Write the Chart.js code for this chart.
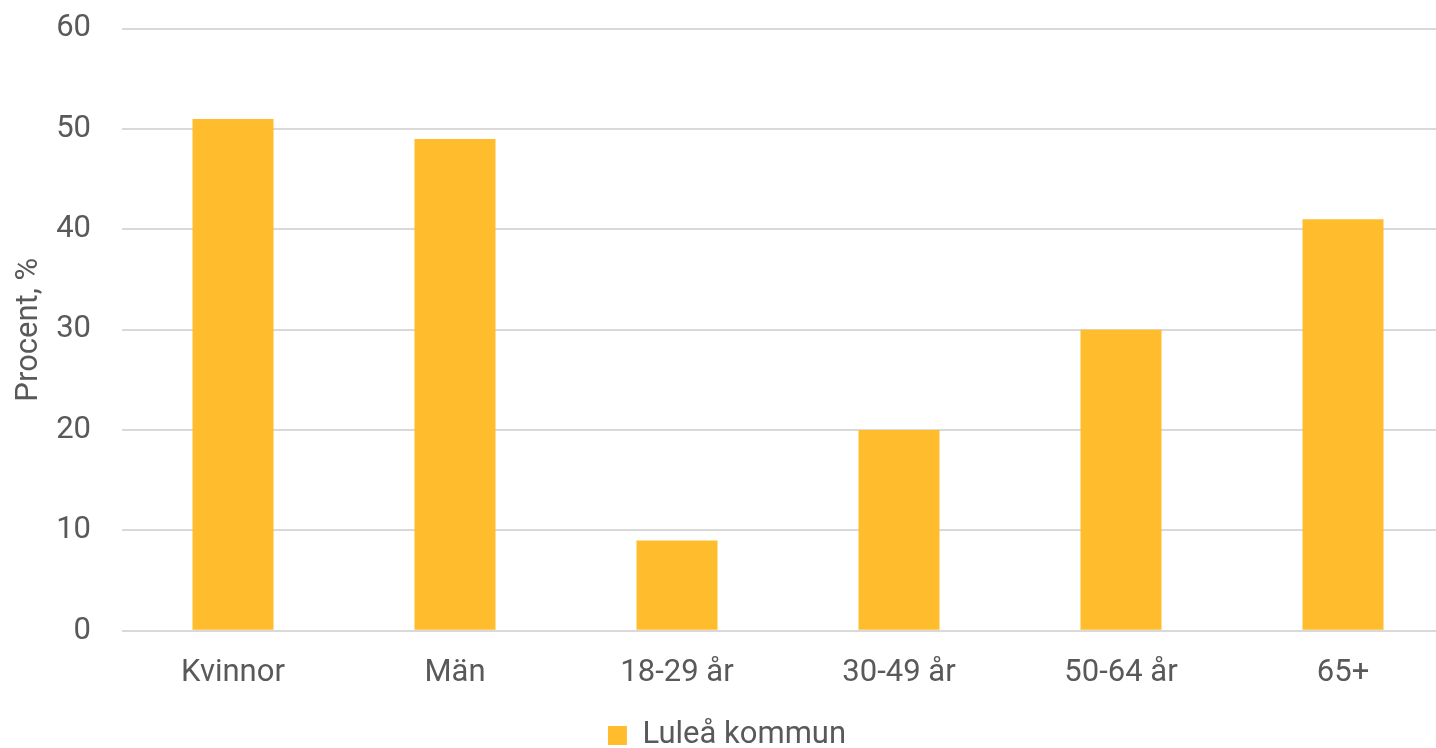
<!DOCTYPE html>
<html>
<head>
<meta charset="utf-8">
<script src="https://cdn.jsdelivr.net/npm/chart.js@4/dist/chart.umd.min.js"></script>
<style>
html,body{margin:0;padding:0;background:#fff;overflow:hidden;width:1436px;height:748px;}
#wrap{position:absolute;left:0;top:-21px;width:1454px;height:771px;}
</style>
</head>
<body>
<div id="wrap"><canvas id="c" width="1454" height="771"></canvas></div>
<script>
const categories = ['Kvinnor', 'Män', '18-29 år', '30-49 år', '50-64 år', '65+'];
const seriesName = 'Luleå kommun';
const values = [51, 49, 9, 20, 30, 41];
const yTicks = [0, 10, 20, 30, 40, 50, 60];

const textColor = '#595959';
const fontFamily = 'Roboto';
new Chart(document.getElementById('c'), {
  type: 'bar',
  data: {
    labels: categories,
    datasets: [{
      label: seriesName,
      data: values,
      backgroundColor: '#FFBD2E',
      categoryPercentage: 1,
      barPercentage: 0.365
    }]
  },
  options: {
    responsive: false,
    animation: false,
    layout: { padding: { top: -10, left: 0, right: 0, bottom: -11 } },
    plugins: {
      legend: {
        position: 'bottom',
        labels: {
          boxWidth: 19, boxHeight: 19, color: textColor,
          font: { family: fontFamily, size: 31 }, padding: 12
        }
      },
      tooltip: { enabled: false }
    },
    scales: {
      x: {
        grid: { display: false },
        border: { display: false },
        ticks: { color: textColor, font: { family: fontFamily, size: 31 }, padding: 16 }
      },
      y: {
        min: 0, max: 60,
        afterBuildTicks: (axis) => { axis.ticks = yTicks.map(v => ({ value: v })); },
        afterFit: (axis) => { axis.width = 122; },
        grid: { color: '#d9d9d9', lineWidth: 2, drawTicks: false },
        border: { display: false },
        ticks: { color: textColor, font: { family: fontFamily, size: 31 }, padding: 31 },
        title: { display: true, text: 'Procent, %', color: textColor, font: { family: fontFamily, size: 31 }, padding: { top: 11, bottom: 0 } }
      }
    }
  }
});
</script>
</body>
</html>
